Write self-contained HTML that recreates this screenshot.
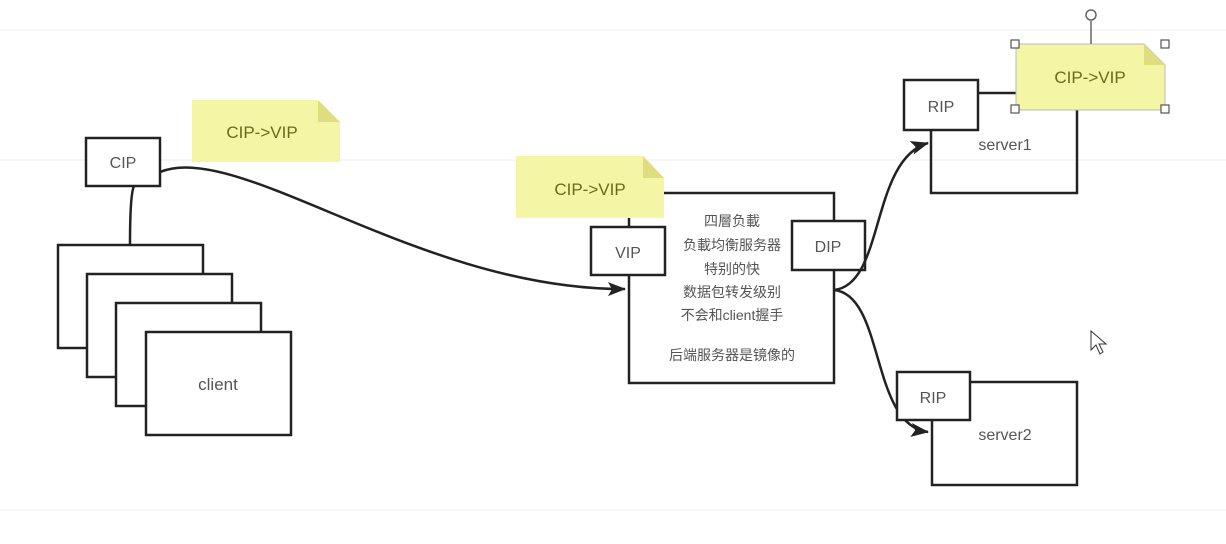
<!DOCTYPE html>
<html><head><style>
body{margin:0;background:#fff;}
svg{display:block;font-family:"Liberation Sans","Noto Sans CJK SC",sans-serif;}
</style></head><body>
<svg width="1226" height="544" viewBox="0 0 1226 544">
<g stroke="#eee" stroke-width="1">
<line x1="0" y1="30" x2="1226" y2="30"/><line x1="0" y1="160" x2="1226" y2="160"/><line x1="0" y1="510" x2="1226" y2="510"/>
</g>
<defs><marker id="a" markerWidth="18" markerHeight="14" refX="17" refY="7" orient="auto" markerUnits="userSpaceOnUse"><path d="M0,0 L18,7 L0,14 L4,7 Z" fill="#222"/></marker></defs>
<g fill="#fff" stroke="#222" stroke-width="2.5">
<rect x="58" y="245" width="145" height="103"/>
<rect x="87" y="274" width="145" height="103"/>
<rect x="116" y="303" width="145" height="103"/>
<rect x="146" y="332" width="145" height="103"/>
</g>
<text x="218" y="390" font-size="17" fill="#555" text-anchor="middle">client</text>
<path d="M130,245 C130,205 132,190 134,186" fill="none" stroke="#222" stroke-width="2.5"/>
<path d="M160,172 C240,140 420,290 625,289" fill="none" stroke="#222" stroke-width="2.5" marker-end="url(#a)"/>
<rect x="86" y="138" width="74" height="48" fill="#fff" stroke="#222" stroke-width="2.5"/>
<text x="123" y="168" font-size="16" fill="#555" text-anchor="middle">CIP</text>
<path d="M192,100 H318 L340,122 V162 H192 Z" fill="#f5f5a6"/><path d="M318,100 L340,122 H318 Z" fill="#dede80"/>
<text x="262" y="138" font-size="17" fill="#6b6b1a" text-anchor="middle">CIP-&gt;VIP</text>
<rect x="629" y="193" width="205" height="190" fill="#fff" stroke="#222" stroke-width="2.5"/>
<path d="M516,156 H643 L664,178 V218 H516 Z" fill="#f5f5a6"/><path d="M643,156 L664,178 H643 Z" fill="#dede80"/>
<text x="590" y="195" font-size="17" fill="#6b6b1a" text-anchor="middle">CIP-&gt;VIP</text>
<line x1="629" y1="218" x2="629" y2="227" stroke="#222" stroke-width="2"/>
<g font-size="14" fill="#555" text-anchor="middle">
<text x="732" y="226">四層负載</text><text x="732" y="250">负載均衡服务器</text><text x="732" y="274">特别的快</text><text x="732" y="297">数据包转发级别</text><text x="732" y="320">不会和client握手</text><text x="732" y="360">后端服务器是镜像的</text>
</g>
<rect x="591" y="227" width="74" height="48" fill="#fff" stroke="#222" stroke-width="2.5"/>
<text x="628" y="258" font-size="16" fill="#555" text-anchor="middle">VIP</text>
<rect x="792" y="221" width="73" height="49" fill="#fff" stroke="#222" stroke-width="2.5"/>
<text x="828" y="252" font-size="16" fill="#555" text-anchor="middle">DIP</text>
<path d="M834,290 C885,285 870,160 928,143" fill="none" stroke="#222" stroke-width="2.5" marker-end="url(#a)"/>
<path d="M834,290 C885,295 870,425 928,432" fill="none" stroke="#222" stroke-width="2.5" marker-end="url(#a)"/>
<path d="M1077,110 V193 H931 V130" fill="none" stroke="#222" stroke-width="2.5"/>
<line x1="978" y1="93" x2="1016" y2="93" stroke="#222" stroke-width="2.5"/>
<text x="1005" y="150" font-size="16" fill="#555" text-anchor="middle">server1</text>
<rect x="904" y="80" width="74" height="50" fill="#fff" stroke="#222" stroke-width="2.5"/>
<text x="941" y="112" font-size="16" fill="#555" text-anchor="middle">RIP</text>
<path d="M1016,44 H1144 L1165,65 V110 H1016 Z" fill="#f5f5a6" stroke="#bbb"/><path d="M1144,44 L1165,65 H1144 Z" fill="#dede80"/>
<text x="1090" y="83" font-size="17" fill="#6b6b1a" text-anchor="middle">CIP-&gt;VIP</text>
<line x1="1091" y1="21" x2="1091" y2="44" stroke="#666" stroke-width="1.5"/>
<circle cx="1091" cy="15" r="5" fill="#fff" stroke="#666" stroke-width="1.5"/>
<g fill="#fff" stroke="#555" stroke-width="1.2">
<rect x="1011" y="40" width="8" height="8"/><rect x="1161" y="40" width="8" height="8"/><rect x="1011" y="105" width="8" height="8"/><rect x="1161" y="105" width="8" height="8"/>
</g>
<rect x="932" y="382" width="145" height="103" fill="#fff" stroke="#222" stroke-width="2.5"/>
<text x="1005" y="440" font-size="16" fill="#555" text-anchor="middle">server2</text>
<rect x="897" y="372" width="73" height="48" fill="#fff" stroke="#222" stroke-width="2.5"/>
<text x="933" y="403" font-size="16" fill="#555" text-anchor="middle">RIP</text>
<path d="M1091,331 L1091,350 L1096,345 L1100,354 L1103,352 L1099,344 L1106,344 Z" fill="#fff" stroke="#333" stroke-width="1"/>
</svg>
</body></html>
